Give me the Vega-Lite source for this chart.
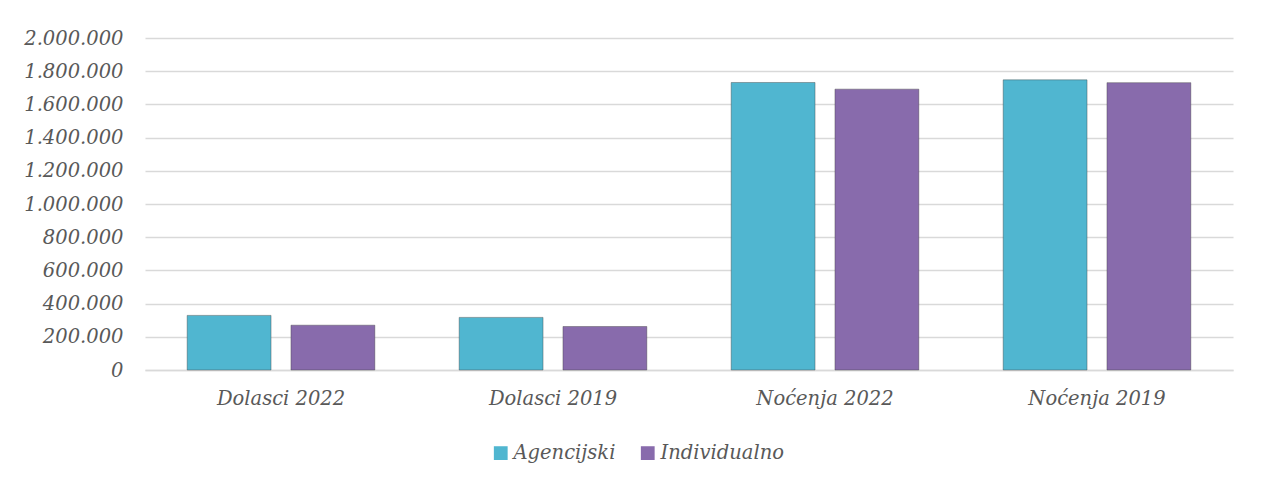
{
  "$schema": "https://vega.github.io/schema/vega-lite/v6.json",
  "autosize": "none",
  "width": 1088,
  "height": 332,
  "padding": {"left": 145, "top": 38, "right": 28, "bottom": 114},
  "background": "white",
  "config": {
    "view": {"stroke": null},
    "font": "DejaVu Serif",
    "axis": {"labelFontStyle": "italic", "labelFont": "DejaVu Serif"},
    "legend": {"labelFontStyle": "italic"}
  },
  "data": {
    "values": [
      {"kategorija": "Dolasci 2022", "tip": "Agencijski", "vrijednost": 329000},
      {"kategorija": "Dolasci 2022", "tip": "Individualno", "vrijednost": 270000},
      {"kategorija": "Dolasci 2019", "tip": "Agencijski", "vrijednost": 317000},
      {"kategorija": "Dolasci 2019", "tip": "Individualno", "vrijednost": 262000},
      {"kategorija": "Noćenja 2022", "tip": "Agencijski", "vrijednost": 1732000},
      {"kategorija": "Noćenja 2022", "tip": "Individualno", "vrijednost": 1692000},
      {"kategorija": "Noćenja 2019", "tip": "Agencijski", "vrijednost": 1748000},
      {"kategorija": "Noćenja 2019", "tip": "Individualno", "vrijednost": 1731000}
    ]
  },
  "mark": {"type": "bar", "stroke": "#3f3f3f", "strokeWidth": 0.8, "strokeOpacity": 0.5},
  "encoding": {
    "x": {
      "field": "kategorija",
      "type": "nominal",
      "sort": ["Dolasci 2022", "Dolasci 2019", "Noćenja 2022", "Noćenja 2019"],
      "scale": {"paddingInner": 0.31, "paddingOuter": 0.155},
      "axis": {
        "title": null,
        "labelAngle": 0,
        "labelFont": "DejaVu Serif",
        "labelFontStyle": "italic",
        "labelFontSize": 19.5,
        "labelColor": "#595959",
        "labelPadding": 19,
        "ticks": false,
        "domainColor": "#d9d9d9",
        "domainWidth": 1.5
      }
    },
    "xOffset": {
      "field": "tip",
      "type": "nominal",
      "scale": {"paddingInner": 0.192, "paddingOuter": 0}
    },
    "y": {
      "field": "vrijednost",
      "type": "quantitative",
      "scale": {"domain": [0, 2000000]},
      "axis": {
        "title": null,
        "values": [0, 200000, 400000, 600000, 800000, 1000000, 1200000, 1400000, 1600000, 1800000, 2000000],
        "labelExpr": "replace(format(datum.value, ','), /,/g, '.')",
        "labelFont": "DejaVu Serif",
        "labelFontStyle": "italic",
        "labelFontSize": 19.5,
        "labelColor": "#595959",
        "labelPadding": 22,
        "ticks": false,
        "domain": false,
        "gridColor": "#d9d9d9",
        "gridWidth": 1.5,
        "encode": {"labels": {"update": {"fontStyle": {"value": "italic"}, "font": {"value": "DejaVu Serif"}}}}
      }
    },
    "color": {
      "field": "tip",
      "type": "nominal",
      "scale": {"domain": ["Agencijski", "Individualno"], "range": ["#50b6d0", "#886bac"]},
      "legend": {
        "title": null,
        "orient": "none",
        "direction": "horizontal",
        "legendX": 346,
        "legendY": 405,
        "symbolType": "square",
        "symbolSize": 190,
        "symbolStrokeWidth": 0,
        "labelFont": "DejaVu Serif",
        "labelFontStyle": "italic",
        "labelFontSize": 19.5,
        "labelColor": "#595959",
        "labelOffset": 3,
        "columnPadding": 22
      }
    }
  }
}
